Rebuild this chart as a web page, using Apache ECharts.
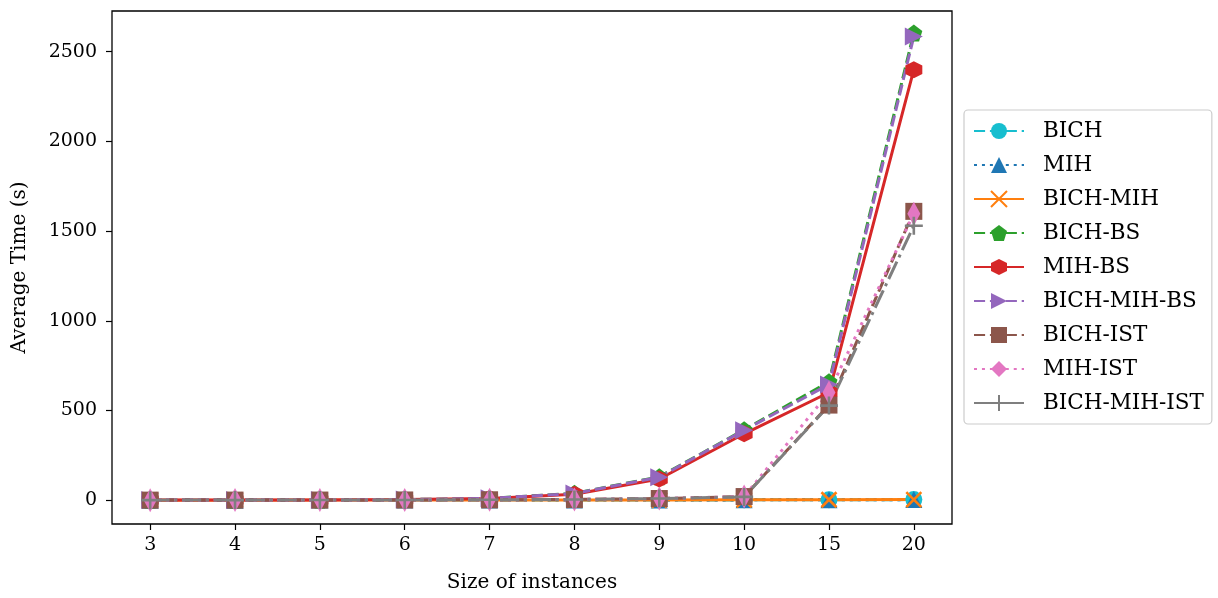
<!DOCTYPE html>
<html><head><meta charset="utf-8">
<script src="https://cdn.jsdelivr.net/npm/echarts@6/dist/echarts.min.js"></script>
<style>html,body{margin:0;padding:0;background:#fff}#c{width:1218px;height:598px}</style>
</head><body><div id="c"></div>
<script>
const categories = ['3','4','5','6','7','8','9','10','15','20'];
const yTicks = [0,500,1000,1500,2000,2500];
const BICH         = [0.1,0.1,0.2,0.3,0.5,0.8,1,1.5,2,3];
const MIH          = [0.1,0.1,0.2,0.3,0.5,0.8,1,1.5,2,3];
const BICH_MIH     = [0.1,0.1,0.2,0.3,0.5,0.8,1,1.5,2,3];
const BICH_BS      = [0.2,0.5,1,3,10,38,130,392,660,2605];
const MIH_BS       = [0.2,0.5,1,3,9,33,118,370,600,2400];
const BICH_MIH_BS  = [0.2,0.5,1,3,10,37,128,390,645,2585];
const BICH_IST     = [0.1,0.3,0.5,1,2,4,9,20,530,1610];
const MIH_IST      = [0.1,0.3,0.5,1,2,4,9,20,600,1597];
const BICH_MIH_IST = [0.1,0.3,0.5,1,2,4,9,18,527,1530];

const LW = 3;
const dashed = [3.7*LW,1.6*LW], dotted=[1*LW,1.65*LW], dashdot=[6.4*LW,1.6*LW,1*LW,1.6*LW];
const P = {
  pent:'path://M0,-1L0.951,-0.309L0.588,0.809L-0.588,0.809L-0.951,-0.309Z',
  hex:'path://M0,-1L0.866,-0.5L0.866,0.5L0,1L-0.866,0.5L-0.866,-0.5Z',
  tri:'path://M-1,-1L1,0L-1,1Z',
  dia:'path://M0,-1L0.6,0L0,1L-0.6,0Z',
  x:'path://M-1,-1L1,1M1,-1L-1,1',
  plus:'path://M0,-1L0,1M-1,0L1,0'
};
function mk(name, data, color, type, symbol, size, strokeOnly){
  return {
    name, type:'line', data: data.map((v,i)=>[i,v]),
    symbol, symbolSize:size, showSymbol:true,
    lineStyle:{color, width:LW, type},
    itemStyle: strokeOnly ? {color:'none', borderColor:color, borderWidth:2.6} : {color, borderWidth:0},
    color, animation:false, emphasis:{disabled:true}
  };
}
const series = [
  mk('BICH', BICH, '#17becf', dashed, 'circle', 17),
  mk('MIH', MIH, '#1f77b4', dotted, 'triangle', 17),
  mk('BICH-MIH', BICH_MIH, '#ff7f0e', 'solid', P.x, 15, true),
  mk('BICH-BS', BICH_BS, '#2ca02c', dashed, P.pent, 17),
  mk('MIH-BS', MIH_BS, '#d62728', 'solid', P.hex, 17),
  mk('BICH-MIH-BS', BICH_MIH_BS, '#9467bd', dashed, P.tri, 18),
  mk('BICH-IST', BICH_IST, '#8c564b', dashed, 'rect', 17),
  mk('MIH-IST', MIH_IST, '#e377c2', dotted, P.dia, [13,24]),
  mk('BICH-MIH-IST', BICH_MIH_IST, '#7f7f7f', dashdot, P.plus, 18, true)
];
const F = 'DejaVu Serif, Liberation Serif, serif';
const chart = echarts.init(document.getElementById('c'), null, {renderer:'canvas'});
chart.setOption({
  animation:false,
  textStyle:{fontFamily:F},
  grid:{left:112, right:266, top:11, bottom:71, show:true, borderColor:'#000', borderWidth:1.3, containLabel:false},
  xAxis:{
    type:'value', min:-0.45, max:9.45,
    name:'Size of instances', nameLocation:'middle', nameGap:49,
    nameTextStyle:{fontFamily:F, fontSize:20, color:'#000'},
    axisLine:{show:false, onZero:false}, splitLine:{show:false},
    axisTick:{show:true, inside:false, length:6, lineStyle:{color:'#000', width:1.2}, customValues:categories.map((c,i)=>i)},
    axisLabel:{fontFamily:F, fontSize:19, color:'#000', margin:12, customValues:categories.map((c,i)=>i), formatter:(v)=>categories[Math.round(v)]}
  },
  yAxis:{
    type:'value', min:-133, max:2727,
    name:'Average Time (s)', nameLocation:'middle', nameGap:82, nameRotate:90,
    nameTextStyle:{fontFamily:F, fontSize:20, color:'#000'},
    axisLine:{show:false, onZero:false}, splitLine:{show:false},
    axisTick:{show:true, inside:false, length:6, lineStyle:{color:'#000', width:1.2}, customValues:yTicks},
    axisLabel:{fontFamily:F, fontSize:19, color:'#000', margin:15, customValues:yTicks, formatter:(v)=>String(v)}
  },
  legend:{
    orient:'vertical', left:964, top:110, padding:[10,8,10,9],
    itemWidth:50, itemHeight:20, itemGap:12,
    backgroundColor:'#fff', borderColor:'#ccc', borderWidth:1.2, borderRadius:4,
    textStyle:{fontFamily:F, fontSize:21.5, color:'#000', padding:[0,0,0,14]},
    data: series.map(s=>s.name)
  },
  series
});
</script></body></html>
